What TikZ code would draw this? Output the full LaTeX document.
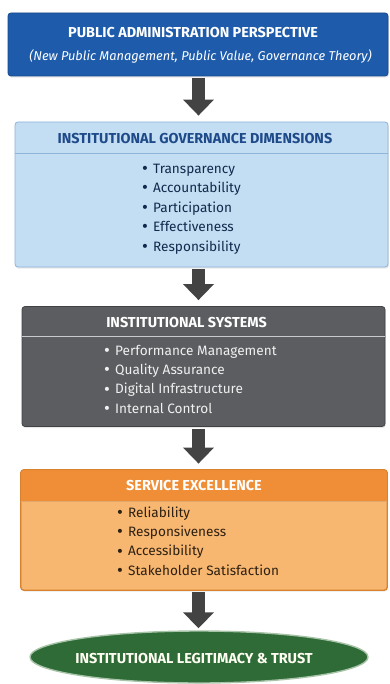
\documentclass[tikz,border=0pt]{standalone}
\usepackage{fontspec}
\setmainfont{Fira Sans}
\usetikzlibrary{arrows.meta,shapes.geometric,shadows}

\definecolor{paBlue}{HTML}{1E5CAB}
\definecolor{paBlueEdge}{HTML}{164A8C}
\definecolor{govFill}{HTML}{C3DDF2}
\definecolor{govEdge}{HTML}{8FB5D9}
\definecolor{govText}{HTML}{1F4A8A}
\definecolor{sysFill}{HTML}{5B5D60}
\definecolor{sysEdge}{HTML}{404245}
\definecolor{sysLine}{HTML}{C9CACC}
\definecolor{svcFill}{HTML}{F7B770}
\definecolor{svcHead}{HTML}{EF8E36}
\definecolor{svcEdge}{HTML}{D8822F}
\definecolor{svcText}{HTML}{2E2012}
\definecolor{trustFill}{HTML}{2E6B36}
\definecolor{trustEdge}{HTML}{A8C4A8}
\definecolor{flowGray}{HTML}{434343}

\tikzset{
  panel/.style={rectangle, rounded corners=3pt, line width=0.8pt, inner sep=0pt,
    drop shadow={opacity=0.18, shadow xshift=0.8pt, shadow yshift=-1.6pt}},
  heading/.style={inner sep=0pt, font=\bfseries\fontsize{14.4}{16}\selectfont},
  item/.style={anchor=west, inner sep=0pt, text height=9.5pt, text depth=3pt,
    font=\fontsize{13.6}{15}\selectfont},
  flow/.style={draw=flowGray, line width=13pt,
    -{Triangle[width=30pt,length=16pt]}, shorten <=2pt, shorten >=6pt},
}
\newcommand{\bul}[1]{\makebox[11pt][l]{\raisebox{-1.2pt}{\fontsize{18}{18}\selectfont •}}#1}

\begin{document}
\begin{tikzpicture}[x=1pt, y=-1pt]
  \useasboundingbox (0,0) rectangle (389,684);
  \fill[white] (0,0) rectangle (389,684);
  \coordinate (spine) at (198.5,0);

  % Perspective banner
  \node[panel, fill=paBlue, draw=paBlueEdge, minimum width=380pt, minimum height=63pt]
    (b1) at (198,44.5) {};
  \node[heading, text=white] (b1t) at (193,33) {PUBLIC ADMINISTRATION PERSPECTIVE};
  \node[inner sep=0pt, text=white, font=\itshape\fontsize{12.8}{15}\selectfont]
    (b1s) at (200.5,56) {(New Public Management, Public Value, Governance Theory)};

  % Governance dimensions
  \node[panel, fill=govFill, draw=govEdge, minimum width=373pt, minimum height=145pt]
    (b2) at (201.5,194.5) {};
  \draw[govEdge, line width=0.8pt] (b2.west |- 0,153) -- (b2.east |- 0,153);
  \node[heading, text=govText] (b2t) at (195,139) {INSTITUTIONAL GOVERNANCE DIMENSIONS};
  \foreach \t [count=\i] in {Transparency,Accountability,Participation,Effectiveness,Responsibility}
    \node[item, text=govText!55!black] (g\i) at (142,150.5+19.5*\i) {\bul{\t}};

  % Institutional systems
  \node[panel, fill=sysFill, draw=sysEdge, minimum width=363pt, minimum height=120pt]
    (b3) at (203.5,366.5) {};
  \draw[sysLine, line width=0.8pt] (b3.west |- 0,336) -- (b3.east |- 0,336);
  \node[heading, text=white] (b3t) at (186.5,323) {INSTITUTIONAL SYSTEMS};
  \foreach \t [count=\i] in {Performance Management,Quality Assurance,Digital Infrastructure,Internal Control}
    \node[item, text=white!94!black] (s\i) at (104,332.7+19.3*\i) {\bul{\t}};

  % Service excellence
  \node[panel, fill=svcFill, draw=svcEdge, minimum width=366pt, minimum height=120pt]
    (b4) at (204,530) {};
  \begin{scope}
    \clip[rounded corners=3pt] (b4.north west) rectangle (b4.south east);
    \fill[svcHead] (b4.north west) rectangle (b4.east |- 0,501);
  \end{scope}
  \draw[svcEdge, line width=0.8pt, rounded corners=3pt] (b4.north west) rectangle (b4.south east);
  \draw[svcEdge!70!white, line width=0.6pt] (b4.west |- 0,501) -- (b4.east |- 0,501);
  \node[heading, text=white] (b4t) at (194,486) {SERVICE EXCELLENCE};
  \foreach \t [count=\i] in {Reliability,Responsiveness,Accessibility,Stakeholder Satisfaction}
    \node[item, text=svcText] (e\i) at (117,494.7+19.3*\i) {\bul{\t}};

  % Outcome
  \node[ellipse, fill=trustFill, draw=trustEdge, line width=1.4pt, inner sep=0pt,
    minimum width=338pt, minimum height=52pt] (b5) at (199,657) {};
  \node[heading, text=white!95!yellow] (b5t) at (194,659) {INSTITUTIONAL LEGITIMACY \& TRUST};

  % Flow arrows
  \draw[flow] (b1.south -| spine) -- (b2.north -| spine);
  \draw[flow] (b2.south -| spine) -- (b3.north -| spine);
  \draw[flow] (b3.south -| spine) -- (b4.north -| spine);
  \draw[flow, shorten >=2pt] (b4.south -| spine) -- (b5.north -| spine);
\end{tikzpicture}
\end{document}
